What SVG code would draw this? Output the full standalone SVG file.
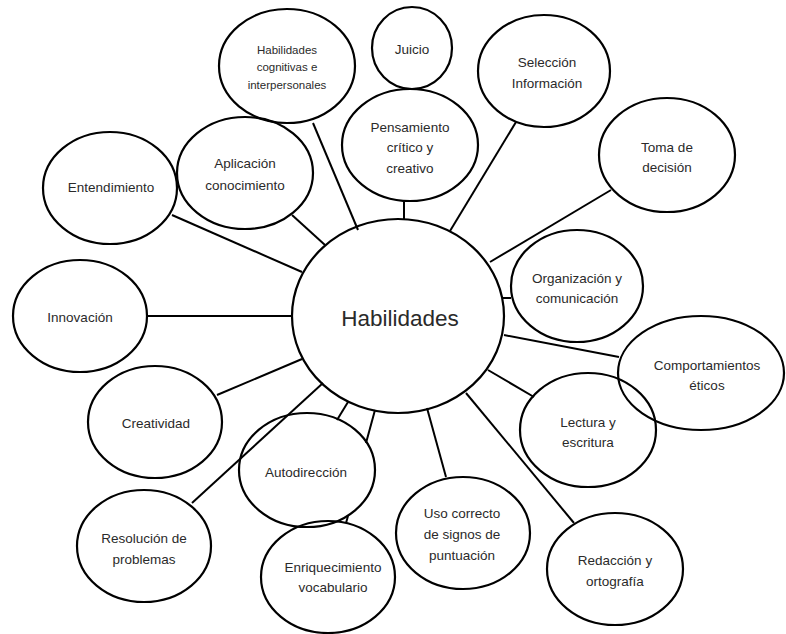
<svg xmlns="http://www.w3.org/2000/svg" width="786" height="634" viewBox="0 0 786 634">
<style>
.n{fill:none;stroke:#000;stroke-width:2.2}
.t{font-family:"Liberation Sans",Arial,sans-serif;font-size:13.5px;fill:#2a2a2a;text-anchor:middle}
.s{font-size:11.5px}
.c line{stroke:#000;stroke-width:2}
</style>
<rect width="786" height="634" fill="#fff"/>
<g id="habilidades"><ellipse class="n" cx="398" cy="316" rx="106" ry="97"/><text class="t" x="400" y="326" style="font-size:22.5px">Habilidades</text></g>
<g id="hab-cognitivas"><ellipse class="n" cx="287" cy="66" rx="68" ry="57"/><text class="t s" x="287" y="54">Habilidades</text><text class="t s" x="287" y="71">cognitivas e</text><text class="t s" x="287" y="89">interpersonales</text></g>
<g id="juicio"><ellipse class="n" cx="412" cy="48" rx="40" ry="41"/><text class="t" x="412" y="54">Juicio</text></g>
<g id="pensamiento"><ellipse class="n" cx="410" cy="145" rx="68" ry="56"/><text class="t" x="410" y="132">Pensamiento</text><text class="t" x="410" y="152">crítico y</text><text class="t" x="410" y="173">creativo</text></g>
<g id="seleccion"><ellipse class="n" cx="544" cy="71" rx="66" ry="56"/><text class="t" x="547" y="67">Selección</text><text class="t" x="547" y="88">Información</text></g>
<g id="toma"><ellipse class="n" cx="667" cy="155" rx="68" ry="57"/><text class="t" x="667" y="152">Toma de</text><text class="t" x="667" y="172">decisión</text></g>
<g id="organizacion"><ellipse class="n" cx="577" cy="286" rx="66" ry="56"/><text class="t" x="577" y="283">Organización y</text><text class="t" x="577" y="303">comunicación</text></g>
<g id="comportamientos"><ellipse class="n" cx="701" cy="373" rx="83" ry="57"/><text class="t" x="707" y="370">Comportamientos</text><text class="t" x="707" y="390">éticos</text></g>
<g id="lectura"><ellipse class="n" cx="588" cy="430" rx="68" ry="57"/><text class="t" x="588" y="427">Lectura y</text><text class="t" x="588" y="447">escritura</text></g>
<g id="redaccion"><ellipse class="n" cx="615" cy="569" rx="68" ry="56"/><text class="t" x="615" y="565">Redacción y</text><text class="t" x="615" y="586">ortografía</text></g>
<g id="uso"><ellipse class="n" cx="463" cy="533" rx="67" ry="56"/><text class="t" x="462" y="518">Uso correcto</text><text class="t" x="462" y="539">de signos de</text><text class="t" x="462" y="560">puntuación</text></g>
<g id="enriquecimiento"><ellipse class="n" cx="328" cy="577" rx="67" ry="56"/><text class="t" x="333" y="572">Enriquecimiento</text><text class="t" x="333" y="592">vocabulario</text></g>
<g id="autodireccion"><ellipse class="n" cx="307" cy="470" rx="68" ry="57"/><text class="t" x="306" y="477">Autodirección</text></g>
<g id="resolucion"><ellipse class="n" cx="144" cy="546" rx="67" ry="56"/><text class="t" x="144" y="543">Resolución de</text><text class="t" x="144" y="564">problemas</text></g>
<g id="creatividad"><ellipse class="n" cx="155" cy="422" rx="67" ry="56"/><text class="t" x="156" y="428">Creatividad</text></g>
<g id="innovacion"><ellipse class="n" cx="80" cy="316" rx="67" ry="56"/><text class="t" x="80" y="322">Innovación</text></g>
<g id="entendimiento"><ellipse class="n" cx="110" cy="188" rx="67" ry="56"/><text class="t" x="111" y="192">Entendimiento</text></g>
<g id="aplicacion"><ellipse class="n" cx="245" cy="173" rx="68" ry="56"/><text class="t" x="245" y="168">Aplicación</text><text class="t" x="245" y="190">conocimiento</text></g>
<g id="connectors" class="c">
<line x1="172" y1="215" x2="302" y2="272"/>
<line x1="292" y1="215" x2="325" y2="245"/>
<line x1="313" y1="123" x2="358" y2="230"/>
<line x1="404" y1="201" x2="404" y2="219"/>
<line x1="516" y1="122" x2="450" y2="231"/>
<line x1="611" y1="190" x2="490" y2="262"/>
<line x1="503" y1="298" x2="511" y2="298"/>
<line x1="504" y1="335" x2="619" y2="357"/>
<line x1="488" y1="370" x2="534" y2="397"/>
<line x1="466" y1="393" x2="574" y2="523"/>
<line x1="427" y1="408" x2="446" y2="477"/>
<line x1="375" y1="410" x2="366" y2="443"/>
<line x1="348" y1="516" x2="346" y2="523"/>
<line x1="348" y1="402" x2="337" y2="420"/>
<line x1="323" y1="383" x2="192" y2="503"/>
<line x1="217" y1="395" x2="302" y2="359"/>
<line x1="147" y1="316" x2="292" y2="316"/>
</g>
</svg>
